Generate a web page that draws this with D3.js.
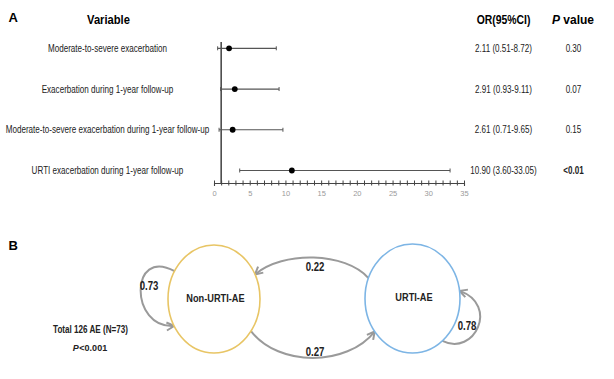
<!DOCTYPE html>
<html><head><meta charset="utf-8">
<script src="https://cdn.jsdelivr.net/npm/d3@7"></script>
<style>html,body{margin:0;padding:0;background:#fff;} svg{display:block;font-family:"Liberation Sans",Arial,sans-serif;}</style>
</head><body>
<svg id="chart" width="614" height="379"></svg>
<script>
// ---------- data ----------
const variables = [
  "Moderate-to-severe exacerbation",
  "Exacerbation during 1-year follow-up",
  "Moderate-to-severe exacerbation during 1-year follow-up",
  "URTI exacerbation during 1-year follow-up"
];
const orValues = [2.11, 2.91, 2.61, 10.90];
const ciLower = [0.51, 0.93, 0.71, 3.60];
const ciUpper = [8.72, 9.11, 9.65, 33.05];
const pValues = ["0.30", "0.07", "0.15", "<0.01"];
const pSignificant = [false, false, false, true];
const axisTicks = [0, 5, 10, 15, 20, 25, 30, 35];
const nodeNames = ["Non-URTI-AE", "URTI-AE"];
const transitionFrom = [0, 1, 0, 1];
const transitionTo = [0, 0, 1, 1];
const transitionProb = [0.73, 0.22, 0.27, 0.78];
const totalNote = "Total 126 AE (N=73)";
const overallP = "<0.001";

// ---------- helpers ----------
const svg = d3.select("#chart");
function condense(sel, ratio) {
  sel.each(function () {
    const w = this.getComputedTextLength();
    d3.select(this).attr("textLength", w * ratio).attr("lengthAdjust", "spacingAndGlyphs");
  });
}

// ---------- panel A ----------
const x = d3.scaleLinear().domain([0, 35]).range([214, 464]);
const y = d3.scalePoint().domain(variables).range([48.3, 170.5]);
const axisY = 183;

svg.append("text").attr("x", 8.5).attr("y", 21.5).attr("font-size", 13).attr("font-weight", "bold").text("A");
svg.append("text").attr("x", 108.5).attr("y", 24).attr("text-anchor", "middle")
  .attr("font-size", 13).attr("font-weight", "bold").text("Variable").call(condense, 0.86);
svg.append("text").attr("x", 503.5).attr("y", 24).attr("text-anchor", "middle")
  .attr("font-size", 13).attr("font-weight", "bold").text("OR(95%CI)").call(condense, 0.8);
const ph = svg.append("text").attr("x", 573).attr("y", 24).attr("text-anchor", "middle")
  .attr("font-size", 12).attr("font-weight", "bold");
ph.append("tspan").attr("font-style", "italic").text("P");
ph.append("tspan").text(" value");

// reference line at OR = 1
svg.append("line").attr("x1", x(1)).attr("x2", x(1)).attr("y1", 42).attr("y2", axisY)
  .attr("stroke", "#222").attr("stroke-width", 1.3);

// axis
const axis = d3.axisBottom(x).tickValues(d3.range(0, 36)).tickSizeOuter(0).tickSize(3)
  .tickFormat(d => axisTicks.includes(d) ? d : "");
const ax = svg.append("g").attr("transform", `translate(0,${axisY})`).call(axis);
ax.select(".domain").attr("stroke", "#444").attr("stroke-width", 1.1);
ax.selectAll(".tick line").attr("y1", -2.5).attr("y2", 2.5).attr("stroke", "#444");
ax.selectAll(".tick text").attr("y", 7.5).attr("dy", "0.71em").attr("fill", "#9a9a9a")
  .attr("font-size", 7.5).attr("font-family", "Liberation Sans, Arial, sans-serif");

const rows = svg.append("g").selectAll("g").data(variables).join("g");
rows.append("text").attr("x", 107.5).attr("y", d => y(d)).attr("dy", "0.35em")
  .attr("text-anchor", "middle").attr("font-size", 10.5).attr("fill", "#222")
  .text(d => d).call(condense, 0.77);
rows.append("line").attr("x1", (d, i) => x(ciLower[i])).attr("x2", (d, i) => x(ciUpper[i]))
  .attr("y1", d => y(d)).attr("y2", d => y(d)).attr("stroke", "#555").attr("stroke-width", 1.2);
rows.append("line").attr("x1", (d, i) => x(ciLower[i])).attr("x2", (d, i) => x(ciLower[i]))
  .attr("y1", d => y(d) - 2).attr("y2", d => y(d) + 2).attr("stroke", "#555").attr("stroke-width", 1);
rows.append("line").attr("x1", (d, i) => x(ciUpper[i])).attr("x2", (d, i) => x(ciUpper[i]))
  .attr("y1", d => y(d) - 2).attr("y2", d => y(d) + 2).attr("stroke", "#555").attr("stroke-width", 1);
rows.append("circle").attr("cx", (d, i) => x(orValues[i])).attr("cy", d => y(d)).attr("r", 2.9).attr("fill", "#000");
rows.append("text").attr("x", 503.5).attr("y", d => y(d)).attr("dy", "0.35em")
  .attr("text-anchor", "middle").attr("font-size", 10.5).attr("fill", "#222")
  .text((d, i) => `${orValues[i].toFixed(2)} (${ciLower[i].toFixed(2)}-${ciUpper[i].toFixed(2)})`)
  .call(condense, 0.77);
rows.append("text").attr("x", 573.5).attr("y", d => y(d)).attr("dy", "0.35em")
  .attr("text-anchor", "middle").attr("font-size", 10.5).attr("fill", "#222")
  .attr("font-weight", (d, i) => pSignificant[i] ? "bold" : "normal")
  .text((d, i) => pValues[i]).call(condense, 0.77);

// ---------- panel B ----------
svg.append("text").attr("x", 8.5).attr("y", 249.5).attr("font-size", 13).attr("font-weight", "bold").text("B");

const nodeLayout = [
  { cx: 214, cy: 299, rx: 46, ry: 54, color: "#E8C565" },
  { cx: 412.5, cy: 298.5, rx: 47.5, ry: 54.5, color: "#7DB5E5" }
];
const edgeLayout = {
  "0-0": { a1: 211, a2: 150, d1: [-45, -25], d2: [-45, 3], label: [149, 286] },
  "1-0": { a1: 202, a2: 333, d1: [-23, -26], d2: [28, -24], label: [315, 267] },
  "0-1": { a1: 36.5, a2: 142.7, d1: [28, 36], d2: [-28, 35], label: [315, 352] },
  "1-1": { a1: 51, a2: -8, d1: [32, 16], d2: [40, 14], label: [467, 326] }
};
function onEllipse(n, a) {
  const r = a * Math.PI / 180;
  return [n.cx + n.rx * Math.cos(r), n.cy + n.ry * Math.sin(r)];
}

const defs = svg.append("defs");
defs.append("marker").attr("id", "arr").attr("markerUnits", "userSpaceOnUse")
  .attr("markerWidth", 12).attr("markerHeight", 12).attr("refX", 8.5).attr("refY", 5)
  .attr("orient", "auto").attr("overflow", "visible")
  .append("path").attr("d", "M1,1 L8.5,5 L1,9").attr("fill", "none")
  .attr("stroke", "#9a9a9a").attr("stroke-width", 2).attr("stroke-linejoin", "miter");

const edges = transitionProb.map((p, i) => ({ from: transitionFrom[i], to: transitionTo[i], p }));
edges.forEach(e => {
  const g = edgeLayout[`${e.from}-${e.to}`];
  const s = onEllipse(nodeLayout[e.from], g.a1);
  const t = onEllipse(nodeLayout[e.to], g.a2);
  const path = d3.path();
  path.moveTo(s[0], s[1]);
  path.bezierCurveTo(s[0] + g.d1[0], s[1] + g.d1[1], t[0] + g.d2[0], t[1] + g.d2[1], t[0], t[1]);
  svg.append("path").attr("d", path.toString()).attr("fill", "none")
    .attr("stroke", "#9a9a9a").attr("stroke-width", 2).attr("marker-end", "url(#arr)");
  svg.append("text").attr("x", g.label[0]).attr("y", g.label[1]).attr("dy", "0.35em")
    .attr("text-anchor", "middle").attr("font-size", 12).attr("font-weight", "bold").attr("fill", "#222")
    .text(e.p.toFixed(2)).call(condense, 0.8);
});

const nodes = svg.append("g").selectAll("g").data(nodeNames).join("g");
nodes.append("ellipse").attr("cx", (d, i) => nodeLayout[i].cx).attr("cy", (d, i) => nodeLayout[i].cy)
  .attr("rx", (d, i) => nodeLayout[i].rx).attr("ry", (d, i) => nodeLayout[i].ry)
  .attr("fill", "#fff").attr("stroke", (d, i) => nodeLayout[i].color).attr("stroke-width", 1.6);
nodes.append("text").attr("x", (d, i) => nodeLayout[i].cx + 1.5).attr("y", (d, i) => nodeLayout[i].cy - 1.5)
  .attr("dy", "0.35em").attr("text-anchor", "middle").attr("font-size", 11.5).attr("font-weight", "bold")
  .attr("fill", "#222").text(d => d).call(condense, 0.8);

svg.append("text").attr("x", 90.5).attr("y", 329.5).attr("dy", "0.35em").attr("text-anchor", "middle")
  .attr("font-size", 10.5).attr("font-weight", "bold").attr("fill", "#222").text(totalNote).call(condense, 0.77);
const pt = svg.append("text").attr("x", 90).attr("y", 348).attr("dy", "0.35em").attr("text-anchor", "middle")
  .attr("font-size", 9).attr("font-weight", "bold").attr("fill", "#222");
pt.append("tspan").attr("font-style", "italic").text("P");
pt.append("tspan").attr("dx", 0.5).text(overallP);
</script>
</body></html>
